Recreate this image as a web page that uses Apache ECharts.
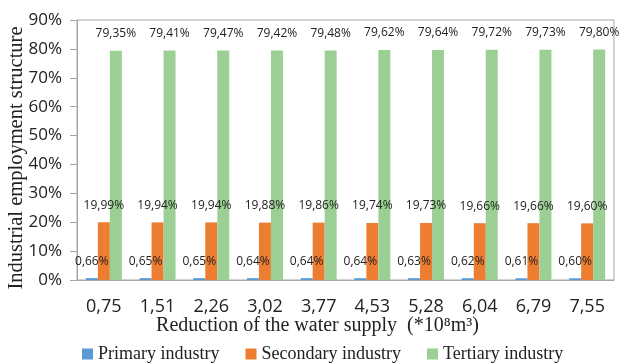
<!DOCTYPE html>
<html>
<head>
<meta charset="utf-8">
<script src="https://cdn.jsdelivr.net/npm/echarts@6/dist/echarts.min.js"></script>
<style>
  html, body { margin: 0; padding: 0; background: #fff; }
  #chart { width: 620px; height: 363px; }
</style>
</head>
<body>
<div id="chart"></div>
<script>
const categories = ['0,75', '1,51', '2,26', '3,02', '3,77', '4,53', '5,28', '6,04', '6,79', '7,55']
const primary = [0.66, 0.65, 0.65, 0.64, 0.64, 0.64, 0.63, 0.62, 0.61, 0.60]
const secondary = [19.99, 19.94, 19.94, 19.88, 19.86, 19.74, 19.73, 19.66, 19.66, 19.60]
const tertiary = [79.35, 79.41, 79.47, 79.42, 79.48, 79.62, 79.64, 79.72, 79.73, 79.80]

const chart = echarts.init(document.getElementById('chart'))

// 数值标签：逗号作小数点
const pct = p => p.value.toFixed(2).replace('.', ',') + '%'

const makeSeries = (name, data, color) => ({
  name: name,
  type: 'bar',
  data: data,
  barWidth: 12,
  barGap: '0%',
  itemStyle: { color: color },
  label: {
    show: true,
    position: 'top',
    distance: 11,
    formatter: pct,
    color: '#222',
    fontSize: 12,
    fontFamily: 'Open Sans'
  }
})

const option = {
  animation: false,
  grid: {
    left: 77,
    right: 6,
    top: 20,
    bottom: 83,
    outerBoundsMode: 'none',
    show: true,
    borderColor: '#a6a6a6',
    borderWidth: 1
  },
  legend: {
    bottom: -5,
    left: 77,
    itemWidth: 11,
    itemHeight: 11,
    itemGap: 26,
    icon: 'rect',
    textStyle: { fontFamily: 'Liberation Serif', fontSize: 18, color: '#222' },
    data: ['Primary industry', 'Secondary industry', 'Tertiary industry']
  },
  xAxis: {
    type: 'category',
    data: categories,
    name: 'Reduction of the water supply  (*10⁸m³)',
    nameLocation: 'middle',
    nameGap: 36,
    nameMoveOverlap: false,
    nameTextStyle: { fontFamily: 'Liberation Serif', fontSize: 20, color: '#222', padding: [0, 56, 0, 0] },
    axisLine: { lineStyle: { color: '#a6a6a6' } },
    axisTick: { show: false },
    axisLabel: { fontFamily: 'Open Sans', fontSize: 18, color: '#222', margin: 18 }
  },
  yAxis: {
    type: 'value',
    min: 0,
    max: 90,
    interval: 10,
    name: 'Industrial employment structure',
    nameLocation: 'middle',
    nameGap: 50,
    nameMoveOverlap: false,
    nameTextStyle: { fontFamily: 'Liberation Serif', fontSize: 20.5, color: '#222', padding: [0, 16, 0, 0] },
    axisLine: { show: true, lineStyle: { color: '#a6a6a6' } },
    axisTick: { show: true, length: 7, lineStyle: { color: '#a6a6a6' } },
    splitLine: { show: false },
    axisLabel: { formatter: '{value}%', fontFamily: 'Open Sans', fontSize: 17, color: '#222', margin: 15 }
  },
  series: [
    makeSeries('Primary industry', primary, '#5b9bd5'),
    makeSeries('Secondary industry', secondary, '#ed7d31'),
    makeSeries('Tertiary industry', tertiary, '#9bcf93')
  ]
}

chart.setOption(option)
</script>
</body>
</html>
